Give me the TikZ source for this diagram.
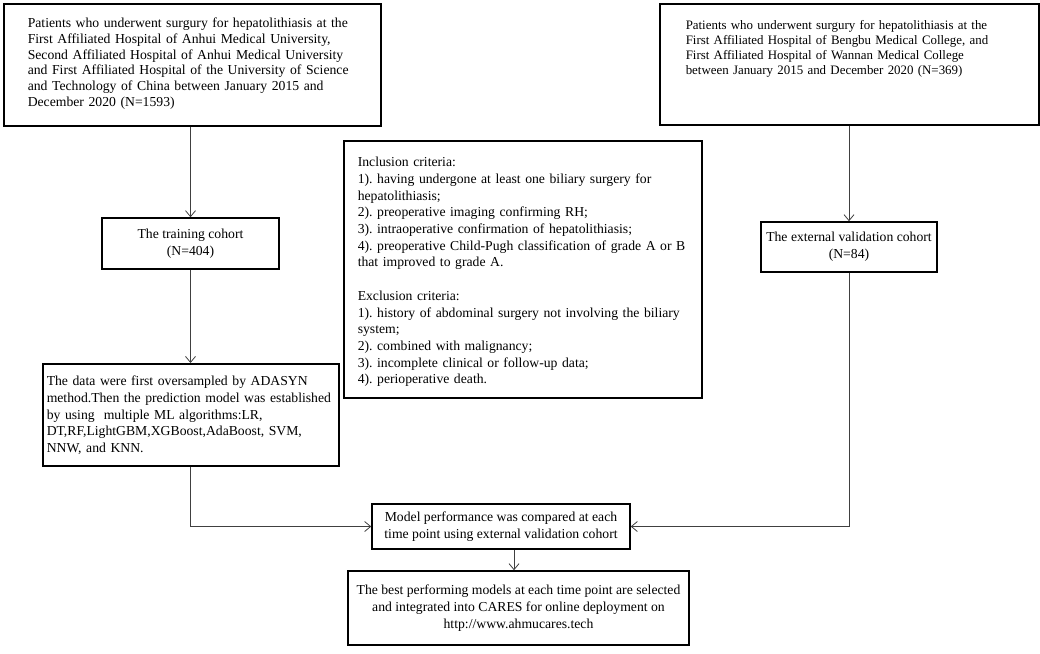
\documentclass[tikz,border=0pt]{standalone}
\usepackage{fontspec}
\setmainfont{Liberation Serif}
\usetikzlibrary{arrows.meta}
\frenchspacing
\newcommand\boxfont{\fontsize{13.7}{16.7}\selectfont}
\tikzset{
  box/.style={draw=black, line width=1.5pt, font=\boxfont},
  leftbox/.style={box, anchor=north west, align=left, inner ysep=0pt},
  midbox/.style={box, align=center, inner sep=0pt},
  arr/.style={draw=black!75, line width=0.8pt, -{Straight Barb[length=6pt,width=10pt]}}
}
\begin{document}
\begin{tikzpicture}[x=1pt,y=-1pt]
  \useasboundingbox[fill=white] (0,0) rectangle (1040,653);
  \path
    (3,3) node[leftbox, inner xsep=24pt, text width=329pt, text height=24pt, text depth=98pt,
      font=\fontsize{13.7}{15.7}\selectfont] (src1){Patients who underwent surgury for hepatolithiasis at the\\
      First Affiliated Hospital of Anhui Medical University,\\
      Second Affiliated Hospital of Anhui Medical University\\
      and First Affiliated Hospital of the University of Science\\
      and Technology of China between January 2015 and\\
      December 2020 (N=1593)}
    (659,3) node[leftbox, inner xsep=26pt, text width=327pt, text height=25.5pt, text depth=95.5pt,
      font=\fontsize{12.9}{15}\selectfont] (src2){Patients who underwent surgury for hepatolithiasis at the\\
      First Affiliated Hospital of Bengbu Medical College, and\\
      First Affiliated Hospital of Wannan Medical College\\
      between January 2015 and December 2020 (N=369)}
    (343,140) node[leftbox, inner xsep=14pt, text width=330pt, text height=26pt, text depth=231pt] (crit){Inclusion criteria:\\
      1). having undergone at least one biliary surgery for\\
      hepatolithiasis;\\
      2). preoperative imaging confirming RH;\\
      3). intraoperative confirmation of hepatolithiasis;\\
      \mbox{4). preoperative Child-Pugh classification of grade A or B}\\
      that improved to grade A.\\[16.7pt]
      Exclusion criteria:\\
      \mbox{1). history of abdominal surgery not involving the biliary}\\
      system;\\
      2). combined with malignancy;\\
      3). incomplete clinical or follow-up data;\\
      4). perioperative death.}
    (190.5,243.5) node[midbox, minimum width=177pt, minimum height=51pt] (train){The training cohort\\(N=404)}
    (849,247) node[midbox, minimum width=176pt, minimum height=50pt] (extval){The external validation cohort\\(N=84)}
    (42,363) node[leftbox, inner xsep=4pt, text width=288pt, text height=22pt, text depth=80pt] (data){The data were first oversampled by ADASYN\\
      method.Then the prediction model was established\\
      by using\ \ multiple ML algorithms:LR,\\
      DT,RF,LightGBM,XGBoost,AdaBoost, SVM,\\
      NNW, and KNN.}
    (501,526.5) node[midbox, minimum width=258pt, minimum height=45pt] (model){Model performance was compared at each\\
      time point using external validation cohort}
    (518.5,608) node[midbox, minimum width=341pt, minimum height=74pt] (best){The best performing models at each time point are selected\\
      and integrated into CARES for online deployment on\\
      http://www.ahmucares.tech};
  \begin{scope}[arr]
    \draw (train.north |- src1.south) to (train.north);
    \draw (train.south) to (train.south |- data.north);
    \draw (data.south) |- (model.west);
    \draw (extval.north |- src2.south) to (extval.north);
    \draw (extval.south) |- (model.east);
    \draw ([xshift=13pt]model.south) to ([xshift=13pt]model.south |- best.north);
  \end{scope}
\end{tikzpicture}
\end{document}
